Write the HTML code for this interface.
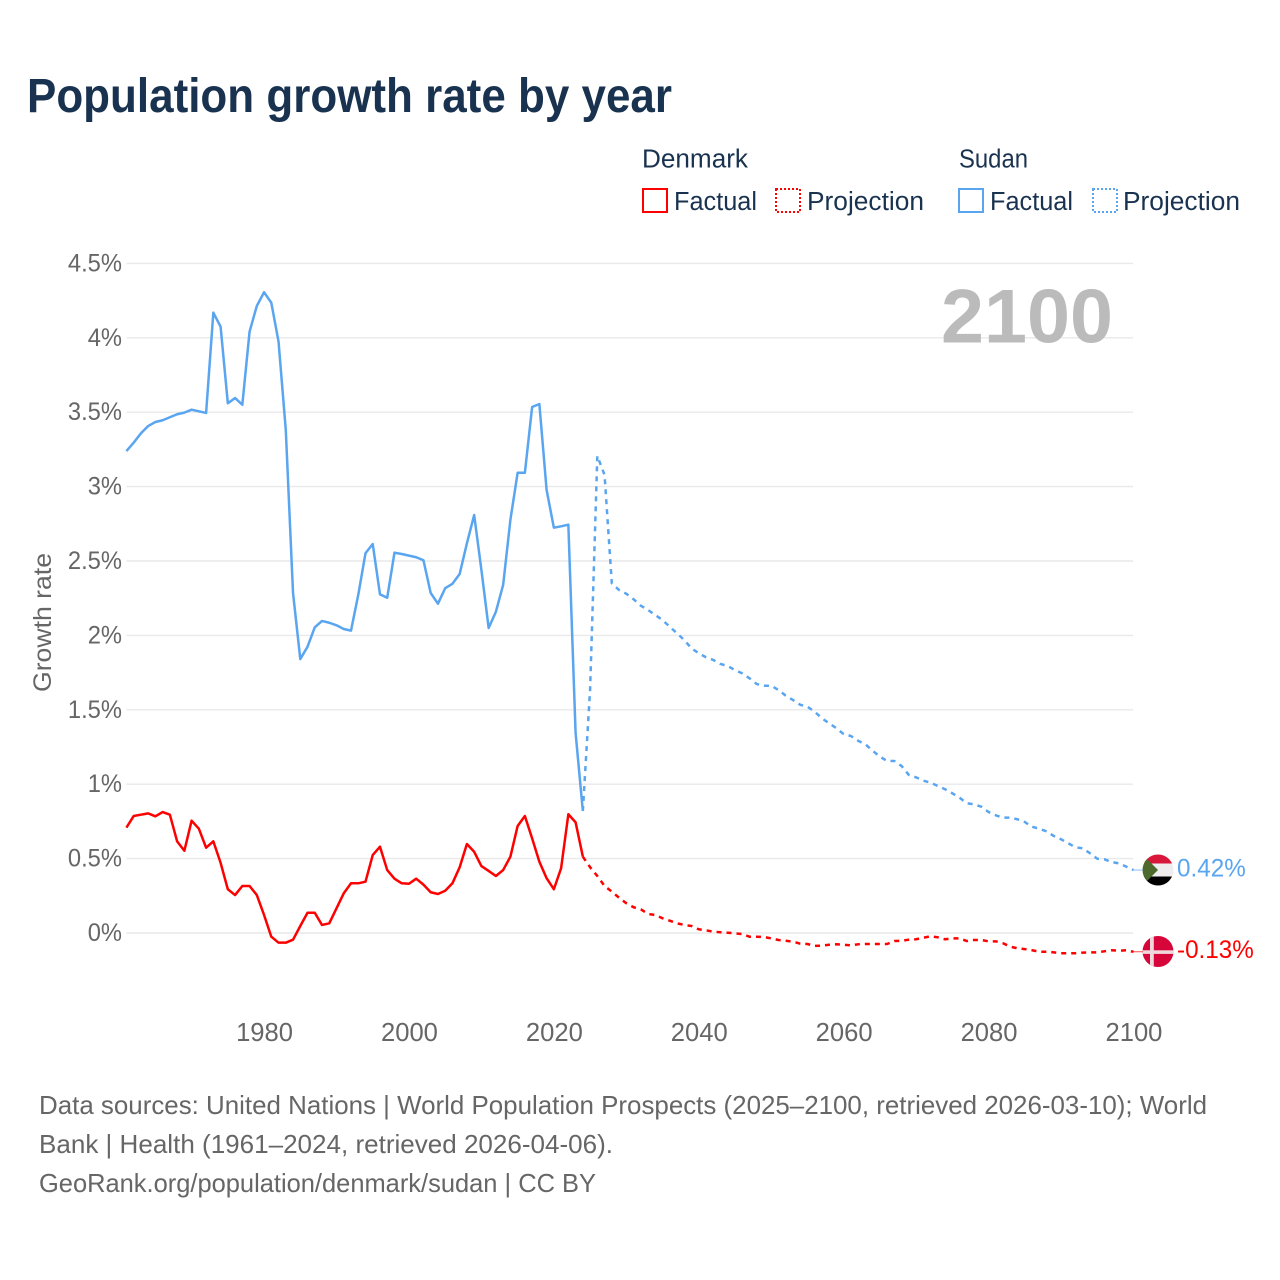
<!DOCTYPE html>
<html lang="en">
<head>
<meta charset="utf-8">
<title>Population growth rate by year</title>
<style>
html,body{margin:0;padding:0;background:#fff;}
svg{display:block;font-family:"Liberation Sans",sans-serif;}
</style>
</head>
<body>
<svg id="chart" xmlns="http://www.w3.org/2000/svg" width="1280" height="1280" viewBox="0 0 1280 1280">
  <rect width="1280" height="1280" fill="#fff"/>
  <text x="27" y="112" font-size="48" font-weight="700" fill="#18324f" textLength="645" lengthAdjust="spacingAndGlyphs">Population growth rate by year</text>

  <g font-size="25.5" fill="#18324f">
    <text x="642" y="167.5" textLength="106" lengthAdjust="spacingAndGlyphs">Denmark</text>
    <rect x="643" y="189" width="24" height="23" fill="none" stroke="#ff0000" stroke-width="2"/>
    <text x="674" y="210" textLength="83" lengthAdjust="spacingAndGlyphs">Factual</text>
    <rect x="776" y="189" width="24" height="23" fill="none" stroke="#ff0000" stroke-width="2" stroke-dasharray="2 2"/>
    <text x="807" y="210" textLength="117" lengthAdjust="spacingAndGlyphs">Projection</text>
    <text x="959" y="167.5" textLength="69" lengthAdjust="spacingAndGlyphs">Sudan</text>
    <rect x="959" y="189" width="24" height="23" fill="none" stroke="#5aa5f0" stroke-width="2"/>
    <text x="990" y="210" textLength="83" lengthAdjust="spacingAndGlyphs">Factual</text>
    <rect x="1093" y="189" width="24" height="23" fill="none" stroke="#5aa5f0" stroke-width="2" stroke-dasharray="2 2"/>
    <text x="1123" y="210" textLength="117" lengthAdjust="spacingAndGlyphs">Projection</text>
  </g>

  <g id="grid"></g>
  <g id="yTicks" font-size="25" fill="#666"></g>
  <g id="xTicks" font-size="25.6" fill="#666"></g>
  <text transform="translate(51,622.5) rotate(-90)" text-anchor="middle" font-size="25" fill="#666" textLength="139" lengthAdjust="spacingAndGlyphs">Growth rate</text>
  <text id="yearLabel" x="1113" y="342.5" text-anchor="end" font-size="76" font-weight="700" fill="#bbbbbb" textLength="172" lengthAdjust="spacingAndGlyphs">2100</text>

  <g id="series"></g>

  <defs>
    <clipPath id="flagClipSudan"><circle cx="1158" cy="870" r="15.5"/></clipPath>
    <clipPath id="flagClipDenmark"><circle cx="1158" cy="951.5" r="15.5"/></clipPath>
  </defs>
  <g clip-path="url(#flagClipSudan)">
    <rect x="1142" y="854" width="32" height="9.5" fill="#d8173a"/>
    <rect x="1142" y="863.5" width="32" height="13" fill="#eeeeee"/>
    <rect x="1142" y="876.5" width="32" height="10" fill="#000000"/>
    <polygon points="1142,854 1158,870 1142,886" fill="#4d6a2d"/>
  </g>
  <g clip-path="url(#flagClipDenmark)">
    <rect x="1142" y="936" width="32" height="31" fill="#d7063a"/>
    <rect x="1150" y="936" width="3.8" height="31" fill="#eed8dc"/>
    <rect x="1142" y="950.3" width="32" height="3.6" fill="#eed8dc"/>
  </g>
  <g id="endLabels" font-size="25"></g>

  <g font-size="26" fill="#666">
    <text x="39" y="1114" textLength="1168" lengthAdjust="spacingAndGlyphs">Data sources: United Nations | World Population Prospects (2025–2100, retrieved 2026-03-10); World</text>
    <text x="39" y="1153" textLength="574" lengthAdjust="spacingAndGlyphs">Bank | Health (1961–2024, retrieved 2026-04-06).</text>
    <text x="39" y="1192" textLength="557" lengthAdjust="spacingAndGlyphs">GeoRank.org/population/denmark/sudan | CC BY</text>
  </g>
</svg>
<script>
var xTickYears = [1980, 2000, 2020, 2040, 2060, 2080, 2100];
var yTickValues = [0, 0.5, 1, 1.5, 2, 2.5, 3, 3.5, 4, 4.5];
var yTickLabels = ['0%', '0.5%', '1%', '1.5%', '2%', '2.5%', '3%', '3.5%', '4%', '4.5%'];
var factualStartYear = 1961;
var projectionStartYear = 2024;

var denmarkFactual = [0.708,0.786,0.795,0.804,0.784,0.813,0.795,0.616,0.553,0.755,0.701,0.573,0.616,0.472,0.294,0.255,0.316,0.316,0.255,0.121,-0.025,-0.065,-0.065,-0.045,0.047,0.136,0.136,0.054,0.065,0.166,0.267,0.334,0.334,0.345,0.524,0.580,0.423,0.365,0.334,0.331,0.365,0.325,0.274,0.262,0.284,0.334,0.442,0.598,0.546,0.450,0.417,0.383,0.423,0.513,0.719,0.786,0.636,0.479,0.368,0.294,0.435,0.798,0.744,0.513];
var sudanFactual = [3.239,3.295,3.358,3.407,3.434,3.446,3.466,3.486,3.497,3.517,3.506,3.495,4.169,4.075,3.560,3.595,3.550,4.041,4.214,4.306,4.236,3.974,3.380,2.285,1.841,1.924,2.054,2.097,2.085,2.068,2.043,2.032,2.272,2.552,2.614,2.276,2.253,2.556,2.547,2.536,2.525,2.505,2.285,2.213,2.317,2.347,2.413,2.619,2.809,2.440,2.050,2.159,2.339,2.776,3.093,3.093,3.535,3.555,2.977,2.724,2.733,2.744,1.344,0.820];
var denmarkProjection = [0.513,0.442,0.383,0.316,0.278,0.237,0.200,0.173,0.159,0.128,0.121,0.099,0.083,0.065,0.054,0.047,0.025,0.018,0.009,0.005,0.002,-0.002,-0.007,-0.025,-0.025,-0.027,-0.036,-0.047,-0.052,-0.058,-0.072,-0.074,-0.087,-0.085,-0.079,-0.076,-0.079,-0.083,-0.076,-0.074,-0.074,-0.074,-0.074,-0.054,-0.052,-0.045,-0.042,-0.032,-0.022,-0.029,-0.042,-0.036,-0.036,-0.054,-0.047,-0.047,-0.056,-0.056,-0.069,-0.092,-0.103,-0.108,-0.116,-0.126,-0.126,-0.130,-0.136,-0.136,-0.136,-0.132,-0.130,-0.130,-0.123,-0.116,-0.119,-0.116,-0.126];
var sudanProjection = [0.820,1.633,3.206,3.078,2.350,2.305,2.280,2.243,2.200,2.171,2.137,2.103,2.058,2.014,1.969,1.913,1.880,1.853,1.835,1.808,1.794,1.767,1.745,1.712,1.673,1.662,1.662,1.633,1.595,1.566,1.534,1.521,1.487,1.443,1.409,1.376,1.337,1.324,1.292,1.268,1.225,1.185,1.156,1.156,1.122,1.062,1.046,1.024,1.010,0.988,0.966,0.939,0.909,0.872,0.865,0.849,0.813,0.791,0.775,0.775,0.764,0.746,0.714,0.701,0.683,0.652,0.630,0.603,0.576,0.569,0.536,0.499,0.495,0.477,0.468,0.446,0.423];
var endValueLabels = ['-0.13%', '0.42%'];

var SVG_NS = 'http://www.w3.org/2000/svg';
function xScale(year) { return 126.4 + (year - 1961) * 7.245; }
function yScale(value) { return 933 - value * 148.8; }
function make(tag, attrs) {
  var el = document.createElementNS(SVG_NS, tag);
  for (var k in attrs) el.setAttribute(k, attrs[k]);
  return el;
}
function pathFor(values, startYear) {
  var d = '';
  for (var i = 0; i < values.length; i++) {
    d += (i ? 'L' : 'M') + xScale(startYear + i).toFixed(2) + ' ' + yScale(values[i]).toFixed(2);
  }
  return d;
}
function narrow(textEl, factor) {
  var len = textEl.getComputedTextLength() * factor;
  textEl.setAttribute('textLength', len.toFixed(1));
  textEl.setAttribute('lengthAdjust', 'spacingAndGlyphs');
}

var gridGroup = document.getElementById('grid');
var yGroup = document.getElementById('yTicks');
yTickValues.forEach(function (v, i) {
  var line = make('line', {x1: 126.5, x2: 1133, y1: yScale(v), y2: yScale(v), stroke: '#e9e9e9', 'stroke-width': 1.4});
  
  
  gridGroup.appendChild(line);
  var label = make('text', {x: 122, y: yScale(v) + 8, 'text-anchor': 'end'});
  
  
  label.textContent = yTickLabels[i];
  yGroup.appendChild(label);
  narrow(label, 0.95);
});

var xGroup = document.getElementById('xTicks');
xTickYears.forEach(function (year) {
  var label = make('text', {x: xScale(year) + 0.5, y: 1041, 'text-anchor': 'middle'});
  
  
  label.textContent = String(year);
  xGroup.appendChild(label);
});

var seriesGroup = document.getElementById('series');
function addSeries(values, startYear, color, dashed, name) {
  var attrs = {d: pathFor(values, startYear), fill: 'none', stroke: color, 'stroke-width': 2.5, 'stroke-linejoin': 'round'};
  if (dashed) attrs['stroke-dasharray'] = '5 5';
  var path = make('path', attrs);
  
  
  seriesGroup.appendChild(path);
}
addSeries(denmarkProjection, projectionStartYear, '#ff0000', true, 'denmark-projection-line');
addSeries(sudanProjection, projectionStartYear, '#5aa5f0', true, 'sudan-projection-line');
addSeries(denmarkFactual, factualStartYear, '#ff0000', false, 'denmark-factual-line');
addSeries(sudanFactual, factualStartYear, '#5aa5f0', false, 'sudan-factual-line');

var endGroup = document.getElementById('endLabels');
function addEnd(values, color, text, name) {
  var y = yScale(values[values.length - 1]);
  var conn = make('line', {x1: 1133.5, x2: 1143, y1: y, y2: y, stroke: color, 'stroke-width': 1, opacity: 0.7});
  
  
  endGroup.appendChild(conn);
  var label = make('text', {x: 1177, y: y + 6.5, fill: color});
  
  
  label.textContent = text;
  endGroup.appendChild(label);
  narrow(label, 0.97);
}
addEnd(denmarkProjection, '#ff0000', endValueLabels[0], 'denmark');
addEnd(sudanProjection, '#5aa5f0', endValueLabels[1], 'sudan');
</script>
</body>
</html>
